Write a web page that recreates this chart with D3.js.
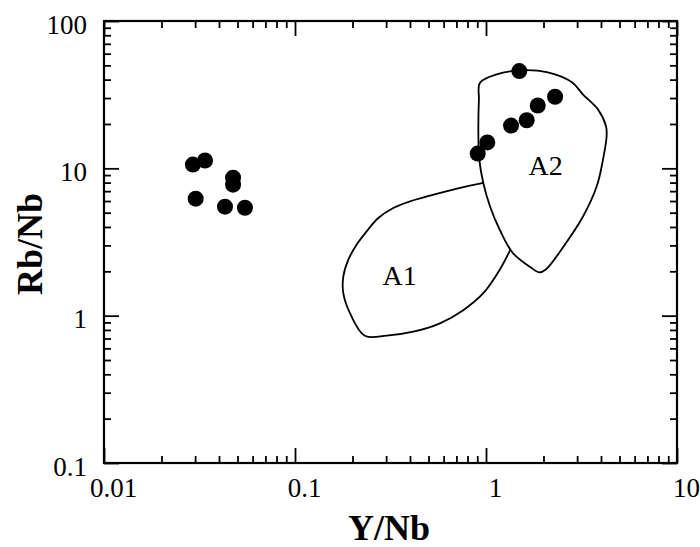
<html>
<head>
  <script src="https://d3js.org/d3.v7.min.js"></script>
  <style>
    body { margin: 0; background: #fff; }
    text { font-family: "Liberation Serif", "Times New Roman", serif; fill: #000; }
    .tick line { stroke: #000; stroke-width: 1.8; }
    .domain { display: none; }
    .tick text { font-size: 27px; }
    .title { font-size: 36px; font-weight: bold; }
    .field { fill: none; stroke: #000; stroke-width: 1.8; }
    .flabel { font-size: 28px; }
  </style>
</head>
<body>
<svg id="chart" width="700" height="547"></svg>
<script>
  const svg = d3.select("#chart");
  const margin = {top: 21, right: 23, bottom: 84, left: 104};
  const chartWidth = 700 - margin.left - margin.right;
  const chartHeight = 547 - margin.top - margin.bottom;
  const serif = '"Liberation Serif", "Times New Roman", serif';

  // tick values
  const xMajor = [0.01, 0.1, 1, 10];
  const yMajor = [0.1, 1, 10, 100];
  const minorSteps = [2, 3, 4, 5, 6, 7, 8, 9];

  // samples [Y/Nb, Rb/Nb]
  const groupLow = [[0.0292, 10.6], [0.0338, 11.3], [0.0302, 6.22], [0.0474, 8.64],
                    [0.0474, 7.75], [0.0430, 5.49], [0.0547, 5.4]];
  const groupHigh = [[1.494, 45.7], [2.30, 30.6], [1.866, 26.7], [1.633, 21.2],
                     [1.352, 19.5], [1.016, 15.0], [0.905, 12.6]];

  // field outlines [Y/Nb, Rb/Nb]
  const fieldA2 = [[0.930, 38.1], [1.138, 43.4], [1.507, 46.2], [2.08, 45.0], [2.81, 38.5],
                   [3.22, 31.7], [3.86, 25.1], [4.25, 19.3], [4.28, 16.5], [4.10, 11.5],
                   [3.80, 7.55], [3.22, 4.71], [2.50, 2.85], [2.05, 2.05], [1.90, 1.97],
                   [1.72, 2.12], [1.38, 2.67], [1.18, 3.83], [1.05, 5.51], [0.968, 7.96],
                   [0.922, 11.5], [0.912, 17.5], [0.918, 29.3]];
  const fieldA1 = [[0.968, 7.96], [0.731, 7.36], [0.509, 6.52], [0.400, 5.97], [0.327, 5.38],
                   [0.273, 4.60], [0.237, 3.73], [0.210, 3.03], [0.190, 2.39], [0.179, 1.84],
                   [0.179, 1.42], [0.194, 1.04], [0.232, 0.731], [0.302, 0.731], [0.416, 0.778],
                   [0.574, 0.887], [0.760, 1.09], [0.968, 1.42], [1.18, 2.05], [1.34, 2.80]];
  const fieldLabels = [["A1", 0.353, 1.62], ["A2", 2.05, 9.0]];

  const x = d3.scaleLog().domain([0.01, 10]).range([0, chartWidth]);
  const y = d3.scaleLog().domain([0.1, 100]).range([chartHeight, 0]);

  const xMinor = [], yMinor = [];
  xMajor.slice(0, -1).forEach(d => minorSteps.forEach(s => xMinor.push(d * s)));
  yMajor.slice(0, -1).forEach(d => minorSteps.forEach(s => yMinor.push(d * s)));

  const chart = svg.append("g").attr("transform", "translate(" + margin.left + "," + margin.top + ")");

  // frame
  chart.append("rect")
    .attr("width", chartWidth).attr("height", chartHeight)
    .attr("fill", "none").attr("stroke", "#000").attr("stroke-width", 2.2);

  // inward ticks on all four sides
  const fmt = d => String(d);
  chart.append("g").attr("transform", "translate(0," + chartHeight + ")")
    .call(d3.axisBottom(x).tickValues(xMajor).tickSize(-15).tickFormat(fmt))
    .selectAll("text").attr("y", 34).attr("dy", 0).attr("dx", 9)
    .style("font-family", serif);
  chart.append("g").attr("transform", "translate(0," + chartHeight + ")")
    .call(d3.axisBottom(x).tickValues(xMinor).tickSize(-7).tickFormat(""));
  chart.append("g")
    .call(d3.axisTop(x).tickValues(xMajor).tickSize(-15).tickFormat(""));
  chart.append("g")
    .call(d3.axisTop(x).tickValues(xMinor).tickSize(-7).tickFormat(""));

  chart.append("g")
    .call(d3.axisLeft(y).tickValues(yMajor).tickSize(-15).tickPadding(17).tickFormat(fmt))
    .selectAll("text").attr("dy", "0.45em")
    .style("font-family", serif);
  chart.append("g")
    .call(d3.axisLeft(y).tickValues(yMinor).tickSize(-7).tickFormat(""));
  chart.append("g").attr("transform", "translate(" + chartWidth + ",0)")
    .call(d3.axisRight(y).tickValues(yMajor).tickSize(-15).tickFormat(""));
  chart.append("g").attr("transform", "translate(" + chartWidth + ",0)")
    .call(d3.axisRight(y).tickValues(yMinor).tickSize(-7).tickFormat(""));

  // fields
  const line = d3.line().x(d => x(d[0])).y(d => y(d[1])).curve(d3.curveCatmullRom.alpha(0.5));
  chart.append("path").attr("class", "field")
    .attr("d", d3.line().x(d => x(d[0])).y(d => y(d[1])).curve(d3.curveCatmullRomClosed.alpha(0.5))(fieldA2));
  chart.append("path").attr("class", "field").attr("d", line(fieldA1));

  chart.selectAll(".flabel").data(fieldLabels)
    .join("text")
      .attr("class", "flabel")
      .attr("text-anchor", "middle")
      .attr("x", d => x(d[1]))
      .attr("y", d => y(d[2]))
      .style("font-family", serif)
      .text(d => d[0]);

  // samples
  chart.selectAll("circle").data(groupLow.concat(groupHigh))
    .join("circle")
      .attr("cx", d => x(d[0]))
      .attr("cy", d => y(d[1]))
      .attr("r", 8)
      .attr("fill", "#000");

  // axis titles
  svg.append("text").attr("class", "title")
    .attr("text-anchor", "middle")
    .attr("x", 389).attr("y", 540)
    .style("font-family", serif)
    .text("Y/Nb");
  svg.append("text").attr("class", "title")
    .attr("text-anchor", "middle")
    .attr("transform", "translate(42,244) rotate(-90)")
    .style("font-family", serif)
    .text("Rb/Nb");
</script>
</body>
</html>
